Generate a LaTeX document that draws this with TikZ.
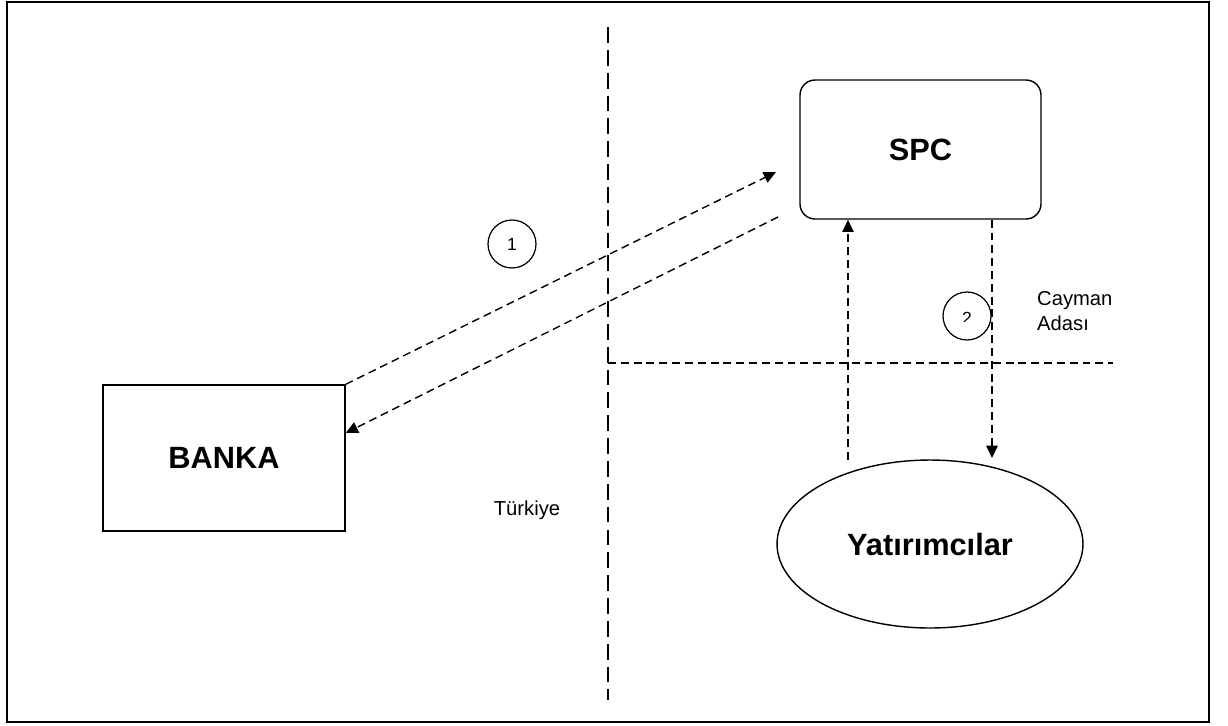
\documentclass[tikz,border=0pt]{standalone}
\usepackage{fontspec}
\setmainfont{Liberation Sans}
\usetikzlibrary{shapes.geometric,arrows.meta}
\begin{document}
\begin{tikzpicture}[x=0.02cm, y=-0.02cm]
  % Define styles
  \tikzstyle{bankbox} = [rectangle, minimum width=4.84cm, minimum height=2.92cm,
                         text centered, draw=black, line width=0.8pt, font=\fontsize{17.5}{21}\selectfont\bfseries]
  \tikzstyle{spcbox} = [rectangle, rounded corners=0.3cm, minimum width=4.82cm, minimum height=2.78cm,
                        text centered, draw=black, line width=0.8pt, font=\fontsize{17.5}{21}\selectfont\bfseries]
  \tikzstyle{investor} = [ellipse, inner sep=0pt, minimum width=6.12cm, minimum height=3.36cm,
                          draw=black, line width=0.8pt, font=\fontsize{17.5}{21}\selectfont\bfseries]
  \tikzstyle{numcircle} = [circle, draw=black, line width=0.7pt, minimum size=0.96cm, inner sep=0pt,
                           font=\fontsize{10}{12}\selectfont]
  \tikzstyle{arrow} = [line width=0.8pt, dash pattern=on 4.5pt off 2.8pt, ->, >={Triangle[length=7pt,width=6.5pt]}]
  \tikzstyle{boundary} = [line width=0.8pt, dash pattern=on 4.5pt off 2.8pt]
  \tikzstyle{label} = [font=\fontsize{11.5}{14.7}\selectfont]

  \useasboundingbox (0,0) rectangle (1228,725);
  \draw [line width=1.3pt] (7,2) rectangle (1209,722);

  % Boundaries
  \draw [boundary, dash pattern=on 9pt off 4pt] (608,27) -- (608,700);
  \draw [boundary] (608,363) -- (1113,363);

  % Nodes
  \node (banka) [bankbox] at (224,458) {BANKA};
  \node (spc) [spcbox] at (920.5,149.5) {SPC};
  \node (yat) [investor] at (930,544) {Yatırımcılar};
  \node (one) [numcircle] at (512,244) {1};
  \node (two) [numcircle] at (967,316) {};
  \begin{scope}
    \clip (940,290) rectangle (995,321);
    \node [font=\fontsize{10}{12}\selectfont] at (967,318) {2};
  \end{scope}

  % Labels
  \node (cayman) [label, anchor=west, align=left] at (1031,311) {Cayman\\Adası};
  \node (turkiye) [label] at (527,510) {Türkiye};

  % Arrows
  \coordinate (tip1) at (776,172);
  \coordinate (start2) at (778,217);
  \coordinate (upfoot) at (848,460);
  \coordinate (downtip) at (992,458);
  \draw [arrow] (banka.north east) -- (tip1);
  \draw [arrow] (start2) -- ([yshift=0.5cm]banka.east);
  \draw [arrow] (upfoot) -- (upfoot |- spc.south);
  \draw [arrow] (downtip |- spc.south) -- (downtip);
\end{tikzpicture}
\end{document}
